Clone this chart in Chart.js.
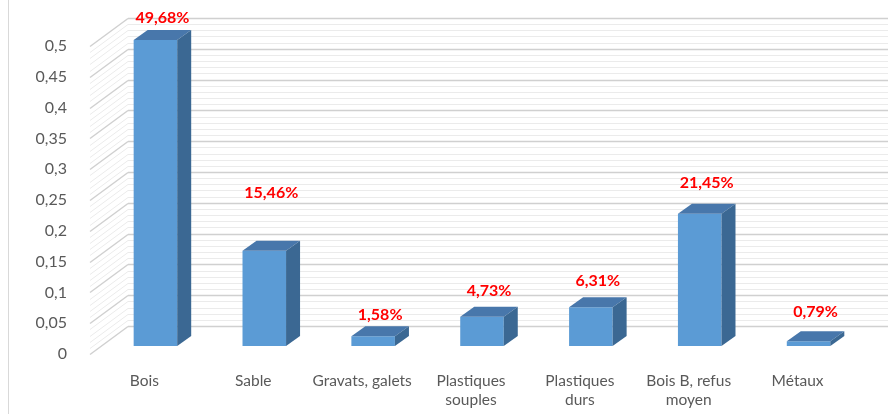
<!DOCTYPE html>
<html>
<head>
<meta charset="utf-8">
<script src="https://cdn.jsdelivr.net/npm/chart.js@4"></script>
<style>
  html, body { margin: 0; padding: 0; background: #ffffff; }
  #wrap { width: 888px; height: 414px; position: relative; }
</style>
</head>
<body>
<div id="wrap"><canvas id="graphique"></canvas></div>
<script>
// Répartition des déchets par catégorie
const categories = ['Bois', 'Sable', 'Gravats, galets', ['Plastiques', 'souples'], ['Plastiques', 'durs'], ['Bois B, refus', 'moyen'], 'Métaux'];
const parts = [0.4968, 0.1546, 0.0158, 0.0473, 0.0631, 0.2145, 0.0079];
const etiquettes = ['49,68%', '15,46%', '1,58%', '4,73%', '6,31%', '21,45%', '0,79%'];

const yMin = 0;
const yMax = 0.5;
const yStep = 0.05;

// hauteur des étiquettes au-dessus de chaque barre (px)
const labelLift = [12, 48, 11, 16, 16, 21, 19];

// effet 3D : profondeur des murs et des barres
const WALL_DX = 38, WALL_DY = -28;
const BAR_SHIFT_X = 11, BAR_SHIFT_Y = -8;
const BAR_DX = 14, BAR_DY = -10;

const police = 'Lato, "Liberation Sans", sans-serif';

const murs3d = {
  id: 'murs3d',
  beforeDatasetsDraw(chart) {
    const { ctx, chartArea: a, scales: { y } } = chart;
    ctx.save();
    // bordure gauche du cadre
    ctx.strokeStyle = '#d9d9d9';
    ctx.lineWidth = 1;
    ctx.beginPath();
    ctx.moveTo(8.5, 0);
    ctx.lineTo(8.5, chart.height);
    ctx.stroke();

    for (let i = 0; i <= 50; i++) {
      const v = i * 0.01;
      const py = Math.round(y.getPixelForValue(v)) + 0.5;
      const major = i % 5 === 0;
      ctx.strokeStyle = major ? '#d0d0d0' : '#ebebeb';
      ctx.lineWidth = major ? 1.5 : 1;
      // mur du fond
      ctx.beginPath();
      ctx.moveTo(a.left + WALL_DX, py + WALL_DY);
      ctx.lineTo(chart.width, py + WALL_DY);
      ctx.stroke();
      // mur latéral
      ctx.beginPath();
      ctx.moveTo(a.left, py);
      ctx.lineTo(a.left + WALL_DX, py + WALL_DY);
      ctx.stroke();
    }
    ctx.restore();

    ctx.save();
    ctx.translate(BAR_SHIFT_X, BAR_SHIFT_Y);
  },
  afterDatasetsDraw(chart) {
    const { ctx } = chart;
    const bars = chart.getDatasetMeta(0).data;
    bars.forEach(bar => {
      const w = bar.width / 2;
      const l = bar.x - w, r = bar.x + w, t = bar.y, b = bar.base;
      // face du dessus
      ctx.fillStyle = '#4877ab';
      ctx.beginPath();
      ctx.moveTo(l, t);
      ctx.lineTo(l + BAR_DX, t + BAR_DY);
      ctx.lineTo(r + BAR_DX, t + BAR_DY);
      ctx.lineTo(r, t);
      ctx.closePath();
      ctx.fill();
      // face latérale
      ctx.fillStyle = '#3b6893';
      ctx.beginPath();
      ctx.moveTo(r, t);
      ctx.lineTo(r + BAR_DX, t + BAR_DY);
      ctx.lineTo(r + BAR_DX, b + BAR_DY);
      ctx.lineTo(r, b);
      ctx.closePath();
      ctx.fill();
    });
    ctx.restore();

    // étiquettes de valeur
    ctx.save();
    ctx.fillStyle = '#ff0000';
    ctx.font = 'bold 16px ' + police;
    ctx.textAlign = 'center';
    ctx.textBaseline = 'middle';
    bars.forEach((bar, i) => {
      const x = bar.x + BAR_SHIFT_X + BAR_DX / 2;
      const y = bar.y + BAR_SHIFT_Y + BAR_DY - labelLift[i];
      ctx.fillText(etiquettes[i], x, y);
    });
    ctx.restore();
  }
};

new Chart(document.getElementById('graphique'), {
  type: 'bar',
  data: {
    labels: categories,
    datasets: [{
      data: parts,
      backgroundColor: '#5b9bd5',
      borderWidth: 0,
      barPercentage: 0.4,
      categoryPercentage: 1
    }]
  },
  options: {
    responsive: true,
    maintainAspectRatio: false,
    animation: false,
    events: [],
    layout: { padding: { top: 46, right: 36, left: 0, bottom: 0 } },
    plugins: {
      legend: { display: false },
      tooltip: { enabled: false }
    },
    scales: {
      x: {
        grid: { display: false },
        border: { display: false },
        ticks: {
          color: '#595959',
          font: { family: police, size: 15.5 },
          maxRotation: 0,
          autoSkip: false,
          padding: 10
        },
        afterFit: s => { s.height = 60; }
      },
      y: {
        min: yMin,
        max: yMax,
        grid: { display: false },
        border: { display: false },
        ticks: {
          stepSize: yStep,
          color: '#595959',
          font: { family: police, size: 16 },
          padding: 15,
          callback: v => String(Number(v.toFixed(2))).replace('.', ',')
        },
        afterFit: s => { s.width = 90; }
      }
    }
  },
  plugins: [murs3d]
});
</script>
</body>
</html>
